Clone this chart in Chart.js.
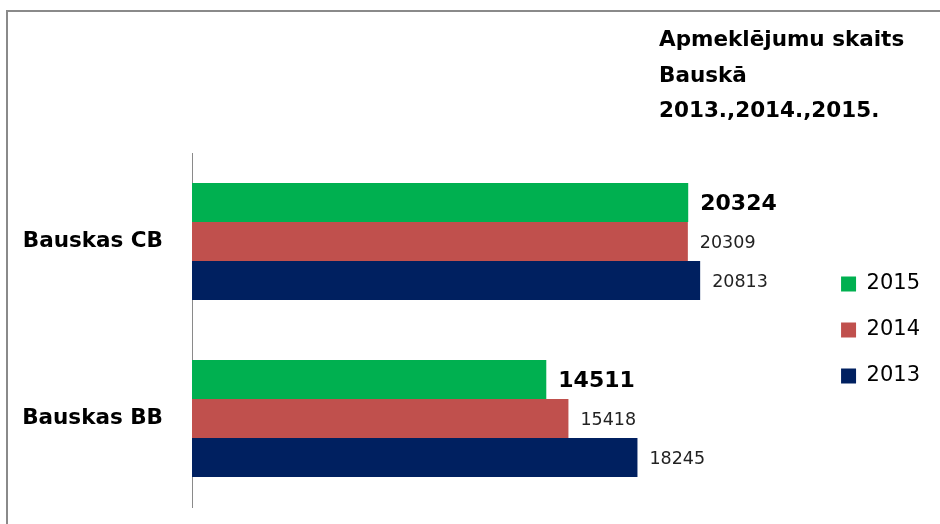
<!DOCTYPE html>
<html>
<head>
<meta charset="utf-8">
<script src="https://cdn.jsdelivr.net/npm/chart.js@4/dist/chart.umd.min.js"></script>
<style>
  html, body { margin: 0; padding: 0; background: #fff; overflow: hidden; }
  #wrap { position: relative; width: 940px; height: 524px; overflow: hidden; }
  .ln { position: absolute; background: #8a8a8a; pointer-events: none; }
  #topLine { left: 6px; top: 10px; width: 934px; height: 2px; }
  #leftLine { left: 6px; top: 10px; width: 2px; height: 514px; }
  canvas { position: absolute; left: 0; top: 0; }
</style>
</head>
<body>
<div id="wrap">
  <div id="topLine" class="ln"></div>
  <div id="leftLine" class="ln"></div>
  <canvas id="c" width="940" height="524"></canvas>
</div>
<script>
const categories = ["Bauskas CB", "Bauskas BB"];
const seriesNames = ["2015", "2014", "2013"];
const values2015 = [20324, 14511];
const values2014 = [20309, 15418];
const values2013 = [20813, 18245];
const seriesColors = ["#00B050", "#C0504D", "#002060"];
const titleLines = ["Apmeklējumu skaits", "Bauskā", "2013.,2014.,2015."];

const FONT = "'DejaVu Sans', sans-serif";

const titlePlugin = {
  id: 'customTitle',
  afterDraw(chart) {
    const ctx = chart.ctx;
    ctx.save();
    ctx.fillStyle = '#000';
    ctx.font = "bold 21.5px " + FONT;
    ctx.textAlign = 'left';
    ctx.textBaseline = 'alphabetic';
    const base = [46, 82, 117];
    titleLines.forEach((t, i) => ctx.fillText(t, 659, base[i]));
    ctx.restore();
  }
};

const valueLabels = {
  id: 'valueLabels',
  afterDatasetsDraw(chart) {
    const ctx = chart.ctx;
    ctx.save();
    ctx.textAlign = 'left';
    ctx.textBaseline = 'middle';
    chart.data.datasets.forEach((ds, di) => {
      const meta = chart.getDatasetMeta(di);
      meta.data.forEach((el, i) => {
        if (di === 0) {
          ctx.font = "bold 22px " + FONT;
          ctx.fillStyle = '#000';
        } else {
          ctx.font = "17.5px " + FONT;
          ctx.fillStyle = '#222';
        }
        ctx.fillText(String(ds.data[i]), el.x + 12, el.y + 2);
      });
    });
    ctx.restore();
  }
};

new Chart(document.getElementById('c'), {
  type: 'bar',
  data: {
    labels: categories,
    datasets: [
      { label: seriesNames[0], data: values2015, backgroundColor: seriesColors[0] },
      { label: seriesNames[1], data: values2014, backgroundColor: seriesColors[1] },
      { label: seriesNames[2], data: values2013, backgroundColor: seriesColors[2] }
    ]
  },
  options: {
    indexAxis: 'y',
    responsive: false,
    animation: false,
    devicePixelRatio: 1,
    layout: { padding: { top: 153, bottom: 17, left: 0, right: 10 } },
    datasets: { bar: { categoryPercentage: 0.661, barPercentage: 1.0 } },
    scales: {
      x: { display: false, min: 0, max: 25560 },
      y: {
        grid: { display: false, drawTicks: true, tickLength: 29 },
        border: { display: true, color: '#8a8a8a', width: 1 },
        ticks: { padding: 0, color: '#000', font: { family: FONT, size: 21.5, weight: 'bold' } },
        afterFit(s) { s.width = 192; }
      }
    },
    plugins: {
      title: { display: false },
      tooltip: { enabled: false },
      legend: {
        display: true,
        position: 'right',
        align: 'center',
        labels: {
          boxWidth: 15, boxHeight: 15, padding: 25, color: '#000',
          font: { family: FONT, size: 21 }
        }
      }
    }
  },
  plugins: [titlePlugin, valueLabels]
});
</script>
</body>
</html>
